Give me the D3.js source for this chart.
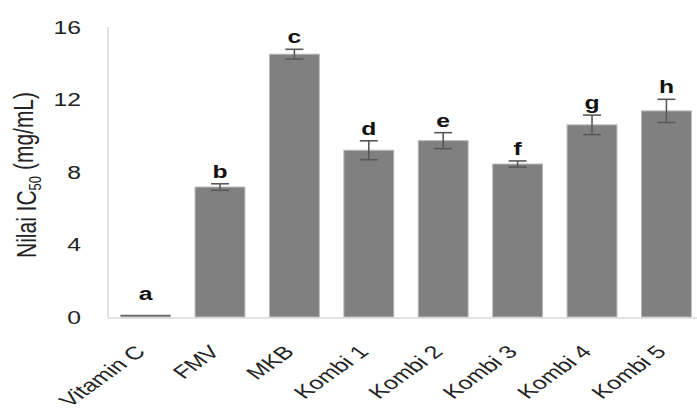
<!DOCTYPE html>
<html lang="en">
<head>
    <meta charset="UTF-8">
    <title>Nilai IC50</title>
    <script src="https://cdnjs.cloudflare.com/ajax/libs/d3/7.0.0/d3.min.js"></script>
    <style>
        body { margin: 0; background: #fff; }
    </style>
</head>
<body>
<svg width="697" height="415"></svg>
<script>
    const categories = ['Vitamin C', 'FMV', 'MKB', 'Kombi 1', 'Kombi 2', 'Kombi 3', 'Kombi 4', 'Kombi 5'];
    const values = [0.08, 7.17, 14.5, 9.2, 9.73, 8.44, 10.6, 11.37];
    const errors = [0, 0.18, 0.27, 0.52, 0.44, 0.17, 0.54, 0.64];
    const letters = ['a', 'b', 'c', 'd', 'e', 'f', 'g', 'h'];
    const yTicks = [0, 4, 8, 12, 16];

    const svg = d3.select('svg');
    const font = 'Liberation Sans, Arial, sans-serif';
    const SX = 1.3; // the original picture is stretched sideways

    const x = d3.scaleBand()
        .domain(categories)
        .range([108, 704])
        .paddingInner(0.33)
        .paddingOuter(0.17);

    const y = d3.scaleLinear()
        .domain([0, 16])
        .range([317, 27]);

    // y axis line
    svg.append('line')
        .attr('x1', 108).attr('x2', 108)
        .attr('y1', y(16)).attr('y2', y(0))
        .style('stroke', '#d9d9d9')
        .style('stroke-width', 1.5);

    svg.selectAll('.ytick')
        .data(yTicks)
        .enter().append('text')
        .attr('transform', d => `translate(81,${y(d)}) scale(${SX},1)`)
        .attr('dy', '0.35em')
        .attr('text-anchor', 'end')
        .attr('font-family', font)
        .attr('font-size', '19px')
        .attr('fill', '#222')
        .text(d => d);

    // bars
    svg.selectAll('.bar')
        .data(categories)
        .enter().append('rect')
        .attr('x', d => x(d))
        .attr('width', x.bandwidth())
        .attr('y', (d, i) => y(values[i]))
        .attr('height', (d, i) => y(0) - y(values[i]))
        .style('fill', '#808080')
        .style('stroke', '#b8b8b8')
        .style('stroke-width', 1);

    // x axis line
    svg.append('line')
        .attr('x1', 108).attr('x2', 697)
        .attr('y1', y(0) + 1).attr('y2', y(0) + 1)
        .style('stroke', '#d9d9d9')
        .style('stroke-width', 1.5);

    // Vitamin C bar is nearly zero, shows as a dark line
    svg.append('line')
        .attr('x1', x(categories[0])).attr('x2', x(categories[0]) + x.bandwidth())
        .attr('y1', y(values[0])).attr('y2', y(values[0]))
        .style('stroke', '#6a6a6a')
        .style('stroke-width', 1.5);

    // error bars
    const cap = 9;
    categories.forEach((c, i) => {
        if (!errors[i]) return;
        const cx = x(c) + x.bandwidth() / 2;
        const top = y(values[i] + errors[i]);
        const bot = y(values[i] - errors[i]);
        const g = svg.append('g')
            .style('stroke', '#595959')
            .style('stroke-width', 1.6);
        g.append('line').attr('x1', cx).attr('x2', cx).attr('y1', top).attr('y2', bot);
        g.append('line').attr('x1', cx - cap).attr('x2', cx + cap).attr('y1', top).attr('y2', top);
        g.append('line').attr('x1', cx - cap).attr('x2', cx + cap).attr('y1', bot).attr('y2', bot);
    });

    // significance letters
    svg.selectAll('.letter')
        .data(categories)
        .enter().append('text')
        .attr('transform', (d, i) => `translate(${x(d) + x.bandwidth() / 2},${y(Math.max(values[i] + errors[i], 0.6)) - 6}) scale(${SX},1)`)
        .attr('text-anchor', 'middle')
        .attr('font-family', font)
        .attr('font-size', '19px')
        .attr('font-weight', 'bold')
        .attr('fill', '#111')
        .text((d, i) => letters[i]);

    // x labels rotated
    svg.selectAll('.xlabel')
        .data(categories)
        .enter().append('text')
        .attr('transform', d => `translate(${x(d) + x.bandwidth() / 2 + 1},${y(0) + 36}) scale(1.4,1) rotate(-45)`)
        .attr('text-anchor', 'end')
        .attr('font-family', font)
        .attr('font-size', '18px')
        .attr('fill', '#222')
        .text(d => d);

    // y axis title
    const title = svg.append('text')
        .attr('transform', `translate(36,175) scale(${SX},1) rotate(-90)`)
        .attr('text-anchor', 'middle')
        .attr('font-family', font)
        .attr('font-size', '21px')
        .attr('fill', '#222');
    title.append('tspan').text('Nilai IC');
    title.append('tspan').attr('font-size', '13px').attr('dy', '0.3em').text('50');
    title.append('tspan').attr('dy', '-0.3em').text(' (mg/mL)');
</script>
</body>
</html>
